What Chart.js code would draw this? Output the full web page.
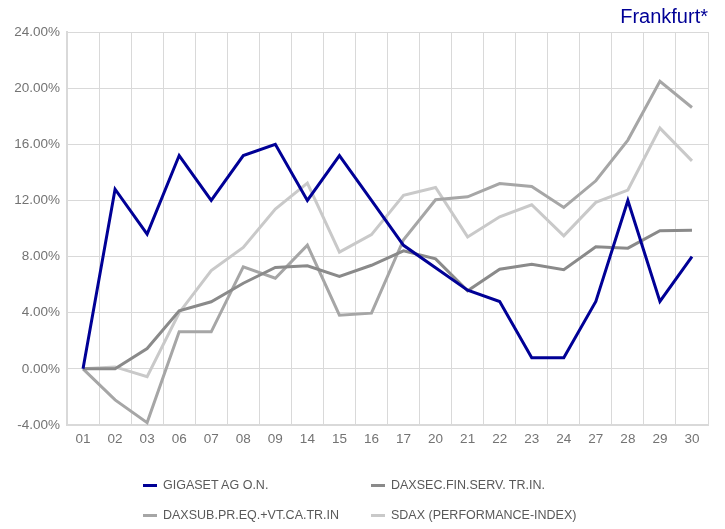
<!DOCTYPE html>
<html lang="de">
  <head>
    <meta charset="utf-8">
    <title>Frankfurt</title>
    <script src="https://cdn.jsdelivr.net/npm/chart.js@4.4.4/dist/chart.umd.min.js"></script>
    <style>
      html, body {
        margin: 0;
        padding: 0;
        background: #fff;
        font-family: "Liberation Sans", Arial, sans-serif;
      }
      .chart-box {
        position: relative;
        width: 725px;
        height: 529px;
      }
      .chart-title {
        position: absolute;
        right: 17px;
        top: 5px;
        font-size: 20px;
        color: #000096;
      }
      .legend {
        position: absolute;
        left: 143px;
        top: 476px;
        display: grid;
        grid-template-columns: 228px 260px;
        row-gap: 12px;
        font-size: 12.5px;
        color: #595959;
      }
      .legend-item {
        display: flex;
        align-items: center;
        height: 18px;
      }
      .legend-swatch {
        width: 14px;
        height: 3px;
        margin-right: 6px;
      }
    </style>
  </head>
  <body>
    <div class="chart-box">
      <canvas id="chart" width="725" height="529"></canvas>
      <div class="chart-title">Frankfurt*</div>
      <div class="legend" id="legend"></div>
    </div>
    <script>
      const days = ['01', '02', '03', '06', '07', '08', '09', '14', '15', '16',
                    '17', '20', '21', '22', '23', '24', '27', '28', '29', '30'];

      const gigaset = [0, 12.8, 9.6, 15.2, 12.0, 15.2, 16.0, 12.0, 15.2, 12.0,
                       8.8, 7.2, 5.6, 4.8, 0.8, 0.8, 4.8, 12.0, 4.8, 8.0];
      const daxsecFinServ = [0, 0, 1.45, 4.13, 4.78, 6.1, 7.22, 7.34, 6.58, 7.38,
                             8.41, 7.84, 5.56, 7.1, 7.46, 7.06, 8.7, 8.6, 9.84, 9.88];
      const daxsubPrEq = [0, -2.21, -3.83, 2.64, 2.64, 7.27, 6.46, 8.81, 3.82, 3.97,
                          9.2, 12.05, 12.26, 13.2, 13.0, 11.5, 13.4, 16.3, 20.48, 18.62];
      const sdax = [0, 0.14, -0.55, 4.0, 7.0, 8.65, 11.38, 13.23, 8.32, 9.56,
                    12.36, 12.92, 9.4, 10.83, 11.69, 9.48, 11.86, 12.74, 17.15, 14.82];

      const seriesNames = ['GIGASET AG O.N.', 'DAXSEC.FIN.SERV. TR.IN.',
                           'DAXSUB.PR.EQ.+VT.CA.TR.IN', 'SDAX (PERFORMANCE-INDEX)'];
      const seriesColors = ['#000096', '#8a8a8a', '#a6a6a6', '#c9c9c9'];
      const yTicks = [-4, 0, 4, 8, 12, 16, 20, 24];

      const seriesData = [gigaset, daxsecFinServ, daxsubPrEq, sdax];

      const datasets = seriesData.map((values, i) => ({
        label: seriesNames[i],
        data: values,
        borderColor: seriesColors[i],
        backgroundColor: seriesColors[i],
        borderWidth: 3,
        pointRadius: 0,
        tension: 0,
        order: i,
      }));

      const gridColor = '#d9d9d9';
      const tickFont = { family: '"Liberation Sans", Arial, sans-serif', size: 13.5 };

      new Chart(document.getElementById('chart'), {
        type: 'line',
        data: { labels: days, datasets: datasets },
        options: {
          responsive: false,
          animation: false,
          layout: {
            padding: { left: 0, right: 17, top: 32, bottom: 79 },
          },
          plugins: {
            legend: { display: false },
            tooltip: { enabled: false },
          },
          scales: {
            x: {
              offset: true,
              grid: { offset: true, color: gridColor, drawTicks: false },
              border: { color: gridColor, width: 2 },
              ticks: { color: '#737373', font: tickFont, padding: 6, maxRotation: 0 },
              afterFit: scale => { scale.height = 25; },
            },
            y: {
              min: -4,
              max: 24,
              afterBuildTicks: scale => {
                scale.ticks = yTicks.map(v => ({ value: v }));
              },
              grid: { color: gridColor, drawTicks: false },
              border: { color: gridColor, width: 2 },
              ticks: {
                color: '#737373',
                font: tickFont,
                padding: 7,
                callback: v => v.toFixed(2) + '%',
              },
              afterFit: scale => { scale.width = 67; },
            },
          },
        },
      });

      const legend = document.getElementById('legend');
      seriesNames.forEach((name, i) => {
        const item = document.createElement('div');
        item.className = 'legend-item';
        const swatch = document.createElement('span');
        swatch.className = 'legend-swatch';
        swatch.style.background = seriesColors[i];
        const text = document.createElement('span');
        text.textContent = name;
        item.appendChild(swatch);
        item.appendChild(text);
        legend.appendChild(item);
      });
    </script>
  </body>
</html>
